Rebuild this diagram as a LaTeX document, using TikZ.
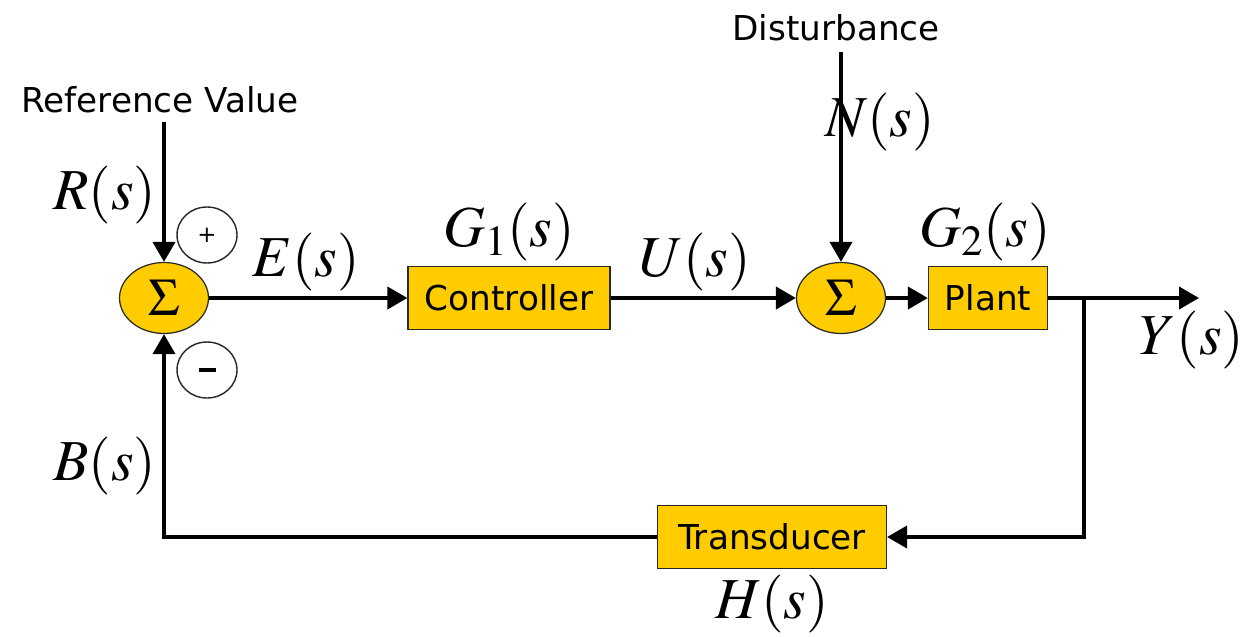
\documentclass[tikz,border=0pt]{standalone}
\usepackage{mathptmx}
\usepackage{fontspec}
\setmainfont{DejaVu Sans}
\usepackage{tikz}
\usetikzlibrary{shapes.geometric,arrows.meta,positioning}
\definecolor{BlockYellow}{RGB}{255,204,0}
\definecolor{EdgeGray}{RGB}{40,40,40}
\newcommand{\sig}[1]{{\fontsize{33}{36}\selectfont$#1(s)$}}
\newcommand{\gsig}[1]{{\fontsize{33}{36}\selectfont$G_{#1}(s)$}}

\begin{document}
\begin{tikzpicture}[x=0.02cm,y=-0.02cm,
  block/.style={draw=EdgeGray,fill=BlockYellow,line width=0.7pt,
                minimum height=1.27cm,inner sep=0pt,
                font=\fontsize{19.5}{23}\selectfont},
  summer/.style={ellipse,draw=EdgeGray,fill=BlockYellow,line width=0.7pt,
                 minimum width=1.78cm,minimum height=1.42cm,inner sep=0pt,
                 font=\fontsize{30}{30}\selectfont},
  sign/.style={ellipse,draw=EdgeGray,line width=0.8pt,fill=white,
               minimum width=1.2cm,minimum height=1.12cm,inner sep=0pt},
  lbl/.style={inner sep=0pt,font=\fontsize{19.5}{23}\selectfont},
  arr/.style={-{Triangle[length=0.4cm,width=0.44cm]},line width=2.2pt},
]
\useasboundingbox (0,0) rectangle (1243,636);

\node[summer] (sumA) at (164,298) {$\Sigma$};
\node[sign] (plus) at (207,235) {\fontsize{13}{15}\selectfont +};
\node[sign] (minus) at (207,370) {\rule[-0.25ex]{0.34cm}{0.08cm}};
\node[block,minimum width=4.04cm] (ctrl) at (509,298) {\raisebox{-0.15ex}{Controller}};
\node[summer] (sumB) at (841,298) {$\Sigma$};
\node[block,minimum width=2.38cm] (plant) at (988,298) {\raisebox{-0.15ex}{Plant}};
\node[block,minimum width=4.58cm] (trans) at (772,537) {\raisebox{-0.15ex}{Transducer}};

\coordinate (refin) at (164,122);
\coordinate (distin) at (841,52);
\coordinate (branch) at (1084,298);
\coordinate (yout) at (1199,298);

\draw[arr] (refin) -- (sumA);
\draw[arr] (distin) -- (sumB);
\draw[arr] (sumA) -- (ctrl);
\draw[arr] (ctrl) -- (sumB);
\draw[arr] (sumB) -- (plant);
\draw[arr] (plant) -- (yout);
\draw[arr] (branch) |- (trans);
\draw[arr] (trans) -| (sumA);

\node[lbl] (reflbl) at (160,100) {Reference Value};
\node[lbl] (distlbl) at (836,28) {Disturbance};
\node[inner sep=0pt] (rlbl) at (105,195) {\sig{R}};
\node[inner sep=0pt] (elbl) at (306,262) {\sig{E}};
\node[inner sep=0pt] (g1lbl) at (509,232) {\gsig{1}};
\node[inner sep=0pt] (ulbl) at (695,262) {\sig{U}};
\node[inner sep=0pt] (nlbl) at (880,122) {\sig{N}};
\node[inner sep=0pt] (g2lbl) at (985,232) {\gsig{2}};
\node[inner sep=0pt] (ylbl) at (1192,340) {\sig{Y}};
\node[inner sep=0pt] (blbl) at (105,466) {\sig{B}};
\node[inner sep=0pt] (hlbl) at (772,604) {\sig{H}};
\end{tikzpicture}
\end{document}
